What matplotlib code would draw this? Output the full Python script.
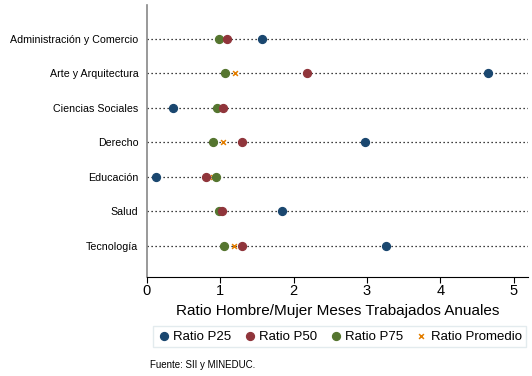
import numpy as np
import matplotlib.pyplot as plt

plt.rcParams['font.family'] = ['Liberation Sans', 'DejaVu Sans']

# Datos (de arriba hacia abajo)
carreras = ['Administración y Comercio', 'Arte y Arquitectura', 'Ciencias Sociales',
            'Derecho', 'Educación', 'Salud', 'Tecnología']
ratio_p25 = [1.57, 4.65, 0.36, 2.97, 0.13, 1.84, 3.26]
ratio_p50 = [1.09, 2.18, 1.04, 1.29, 0.81, 1.03, 1.29]
ratio_p75 = [0.99, 1.07, 0.95, 0.90, 0.94, 0.98, 1.05]
ratio_prom = [1.03, 1.20, 1.00, 1.04, 0.90, 1.00, 1.19]

y = np.arange(len(carreras))[::-1]

fig = plt.figure(figsize=(5.32, 3.76), dpi=100)
ax = fig.add_axes([0.276, 0.263, 0.716, 0.724])

for yi in y:
    ax.axhline(yi, color='black', linestyle=(0, (1, 2.2)), linewidth=0.9, zorder=1)

ax.scatter(ratio_prom, y, marker='x', color='#e37e00', s=12, linewidths=1.1, zorder=3, label='Ratio Promedio')
ax.scatter(ratio_p75, y, color='#55752f', s=32, zorder=4, label='Ratio P75')
ax.scatter(ratio_p50, y, color='#90353b', s=32, zorder=4, label='Ratio P50')
ax.scatter(ratio_p25, y, color='#1a476f', s=32, zorder=4, label='Ratio P25')

ax.set_xlim(0, 5.19)
ax.set_ylim(-0.9, 6.98)
ax.set_yticks(y)
ax.set_yticklabels(carreras, fontsize=7.7)
ax.set_xticks([0, 1, 2, 3, 4, 5])
ax.tick_params(axis='x', labelsize=10.5, length=4, pad=1)
ax.tick_params(axis='y', length=0, pad=6)
ax.set_xlabel('Ratio Hombre/Mujer Meses Trabajados Anuales', fontsize=11, labelpad=4)

ax.spines['top'].set_visible(False)
ax.spines['right'].set_visible(False)
ax.spines['left'].set_color('#888888')
ax.spines['left'].set_linewidth(1.2)

handles, labels = ax.get_legend_handles_labels()
order = [3, 2, 1, 0]
leg = fig.legend([handles[i] for i in order], [labels[i] for i in order],
                 loc='center', bbox_to_anchor=(0.638, 0.105), ncol=4, fontsize=9.5,
                 frameon=True, fancybox=False, handletextpad=0.2, columnspacing=0.9,
                 handlelength=1.0, borderpad=0.35)
leg.get_frame().set_edgecolor('#dde6ea')
leg.get_frame().set_linewidth(1.0)

fig.text(0.282, 0.022, 'Fuente: SII y MINEDUC.', fontsize=7)

fig.savefig('out.png', dpi=100)
